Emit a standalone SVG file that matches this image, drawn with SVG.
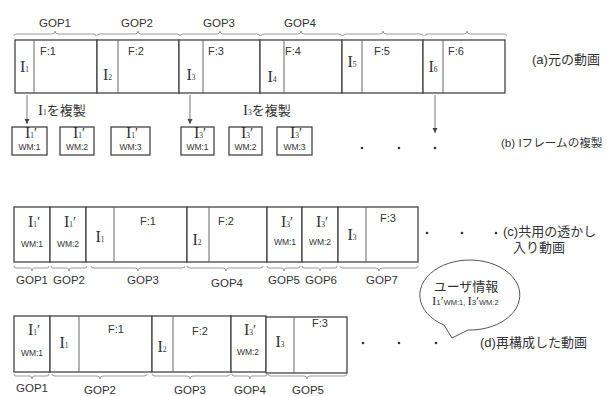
<svg xmlns="http://www.w3.org/2000/svg" width="607" height="396" viewBox="0 0 607 396">
<style>
.bg{fill:#fff}
.box{fill:#fff;stroke:#444;stroke-width:1.3}
.dv{stroke:#666;stroke-width:1}
.br{fill:none;stroke:#999;stroke-width:1}
.gop{font-family:"Liberation Sans",Arial,sans-serif;font-size:11.5px;fill:#333;text-anchor:middle}
.f{font-family:"Liberation Sans",Arial,sans-serif;font-size:11px;fill:#333}
.i{font-family:"Liberation Serif","Times New Roman",serif;font-size:16px;fill:#333;text-anchor:middle}
.s{font-size:7.5px}
.p{font-size:14px}
.wm{font-family:"Liberation Sans",Arial,sans-serif;font-size:8.5px;fill:#333;text-anchor:middle}
.jp{font-family:"Liberation Sans","Noto Sans CJK JP",sans-serif;font-size:13px;fill:#333}
.ij{font-family:"Liberation Serif","Noto Sans CJK JP",serif;font-size:15px}
.arr{stroke:#777;stroke-width:1;fill:none;marker-end:url(#ah)}
.dot{fill:#333}
</style>
<defs>
<marker id="ah" markerWidth="6" markerHeight="6" refX="5" refY="3" orient="auto" markerUnits="userSpaceOnUse">
<path d="M0,0.5 L5,3 L0,5.5 Z" fill="#444"/>
</marker>
</defs>
<rect class="bg" x="0" y="0" width="607" height="396"/>

<g id="a-braces">
<path class="br" d="M14,36 Q14,34 17,34 L52,34 Q55,34 55,31 Q55,34 58,34 L93,34 Q96,34 96,36"/>
<path class="br" d="M97,36 Q97,34 100,34 L135,34 Q138,34 138,31 Q138,34 141,34 L177,34 Q180,34 180,36"/>
<path class="br" d="M180,36 Q180,34 183,34 L217,34 Q220,34 220,31 Q220,34 223,34 L257,34 Q260,34 260,36"/>
<path class="br" d="M261,36 Q261,34 264,34 L298,34 Q301,34 301,31 Q301,34 304,34 L339,34 Q342,34 342,36"/>
<path class="br" d="M343,36 Q343,34 346,34 L380,34 Q383,34 383,31 Q383,34 386,34 L420,34 Q423,34 423,36"/>
<path class="br" d="M425,36 Q425,34 428,34 L464,34 Q467,34 467,31 Q467,34 470,34 L504,34 Q507,34 507,36"/>
<text class="gop" x="55" y="27">GOP1</text>
<text class="gop" x="137" y="27">GOP2</text>
<text class="gop" x="219" y="27">GOP3</text>
<text class="gop" x="300" y="27">GOP4</text>
</g>

<g id="a-gop1"><rect class="box" x="15" y="40" width="82" height="53"/><line class="dv" x1="34" y1="40" x2="34" y2="93"/><text class="i" x="24.5" y="72">I<tspan class="s">1</tspan></text><text class="f" x="40" y="55">F:1</text></g>
<g id="a-gop2"><rect class="box" x="97" y="40" width="82" height="53"/><line class="dv" x1="118" y1="40" x2="118" y2="93"/><text class="i" x="107.5" y="80">I<tspan class="s">2</tspan></text><text class="f" x="128" y="55">F:2</text></g>
<g id="a-gop3"><rect class="box" x="179" y="40" width="81" height="53"/><line class="dv" x1="203" y1="40" x2="203" y2="93"/><text class="i" x="191" y="80">I<tspan class="s">3</tspan></text><text class="f" x="208" y="55">F:3</text></g>
<g id="a-gop4"><rect class="box" x="260" y="40" width="82" height="53"/><line class="dv" x1="284" y1="40" x2="284" y2="93"/><text class="i" x="272" y="82">I<tspan class="s">4</tspan></text><text class="f" x="285" y="55">F:4</text></g>
<g id="a-gop5"><rect class="box" x="342" y="40" width="81" height="53"/><line class="dv" x1="362" y1="40" x2="362" y2="93"/><text class="i" x="352" y="67">I<tspan class="s">5</tspan></text><text class="f" x="374" y="55">F:5</text></g>
<g id="a-gop6"><rect class="box" x="423" y="40" width="82" height="53"/><line class="dv" x1="443" y1="40" x2="443" y2="93"/><text class="i" x="433" y="72">I<tspan class="s">6</tspan></text><text class="f" x="448" y="55">F:6</text></g>
<text class="jp" x="532" y="64">(a)元の動画</text>

<g id="connectors">
<line class="arr" x1="27" y1="95" x2="27" y2="124"/>
<line class="arr" x1="190" y1="95" x2="190" y2="124"/>
<line class="arr" x1="435" y1="95" x2="435" y2="133"/>
</g>
<text class="jp" x="38" y="115"><tspan class="ij">I<tspan class="s">1</tspan></tspan>を複製</text>
<text class="jp" x="243" y="115"><tspan class="ij">I<tspan class="s">3</tspan></tspan>を複製</text>

<g id="b-1"><rect class="box" x="12" y="127" width="35" height="28"/><text class="i" x="31" y="138">I<tspan class="s">1</tspan><tspan class="p">′</tspan></text><text class="wm" x="29.5" y="150">WM:1</text></g>
<g id="b-2"><rect class="box" x="60" y="127" width="34" height="28"/><text class="i" x="79" y="138">I<tspan class="s">1</tspan><tspan class="p">′</tspan></text><text class="wm" x="77" y="150">WM:2</text></g>
<g id="b-3"><rect class="box" x="111" y="127" width="39" height="28"/><text class="i" x="132" y="138">I<tspan class="s">1</tspan><tspan class="p">′</tspan></text><text class="wm" x="130.5" y="150">WM:3</text></g>
<g id="b-4"><rect class="box" x="181" y="127" width="33" height="28"/><text class="i" x="200" y="138">I<tspan class="s">3</tspan><tspan class="p">′</tspan></text><text class="wm" x="197.5" y="150">WM:1</text></g>
<g id="b-5"><rect class="box" x="229" y="127" width="33" height="28"/><text class="i" x="247" y="138">I<tspan class="s">3</tspan><tspan class="p">′</tspan></text><text class="wm" x="245.5" y="150">WM:2</text></g>
<g id="b-6"><rect class="box" x="277" y="127" width="35" height="28"/><text class="i" x="296" y="138">I<tspan class="s">3</tspan><tspan class="p">′</tspan></text><text class="wm" x="294.5" y="150">WM:3</text></g>
<circle class="dot" cx="362" cy="148" r="1.3"/><circle class="dot" cx="399" cy="148" r="1.3"/><circle class="dot" cx="435" cy="148" r="1.3"/>
<text class="jp" x="501" y="147" style="font-size:11.6px">(b) Iフレームの複製</text>

<g id="c-gop1"><rect class="box" x="14" y="207" width="36" height="55"/><text class="i" x="34" y="227">I<tspan class="s">1</tspan><tspan class="p">′</tspan></text><text class="wm" x="32" y="247">WM:1</text></g>
<g id="c-gop2"><rect class="box" x="50" y="207" width="36" height="55"/><text class="i" x="70" y="227">I<tspan class="s">1</tspan><tspan class="p">′</tspan></text><text class="wm" x="68" y="247">WM:2</text></g>
<g id="c-gop3"><rect class="box" x="86" y="207" width="101" height="55"/><line class="dv" x1="114" y1="207" x2="114" y2="262"/><text class="i" x="100" y="242">I<tspan class="s">1</tspan></text><text class="f" x="140" y="225">F:1</text></g>
<g id="c-gop4"><rect class="box" x="187" y="207" width="80" height="55"/><line class="dv" x1="209" y1="207" x2="209" y2="262"/><text class="i" x="197" y="245">I<tspan class="s">2</tspan></text><text class="f" x="218" y="225">F:2</text></g>
<g id="c-gop5"><rect class="box" x="267" y="207" width="35" height="55"/><text class="i" x="287" y="227">I<tspan class="s">3</tspan><tspan class="p">′</tspan></text><text class="wm" x="285" y="245">WM:1</text></g>
<g id="c-gop6"><rect class="box" x="302" y="207" width="36" height="55"/><text class="i" x="322" y="227">I<tspan class="s">3</tspan><tspan class="p">′</tspan></text><text class="wm" x="320" y="245">WM:2</text></g>
<g id="c-gop7"><rect class="box" x="338" y="207" width="80" height="55"/><line class="dv" x1="366" y1="207" x2="366" y2="262"/><text class="i" x="352" y="240">I<tspan class="s">3</tspan></text><text class="f" x="380" y="222">F:3</text></g>
<g id="c-braces">
<path class="br" d="M14,266 Q14,268 16,268 L30,268 Q32,268 32,271 Q32,268 34,268 L47,268 Q49,268 49,266"/>
<path class="br" d="M51,266 Q51,268 53,268 L67,268 Q69,268 69,271 Q69,268 71,268 L85,268 Q87,268 87,266"/>
<path class="br" d="M91,266 Q91,268 94,268 L135,268 Q138,268 138,271 Q138,268 141,268 L182,268 Q185,268 185,266"/>
<path class="br" d="M187,266 Q187,268 190,268 L223,268 Q226,268 226,271 Q226,268 229,268 L260,268 Q263,268 263,266"/>
<path class="br" d="M267,266 Q267,268 269,268 L282,268 Q284,268 284,271 Q284,268 286,268 L298,268 Q300,268 300,266"/>
<path class="br" d="M302,266 Q302,268 304,268 L318,268 Q320,268 320,271 Q320,268 322,268 L335,268 Q337,268 337,266"/>
<path class="br" d="M340,266 Q340,268 343,268 L376,268 Q379,268 379,271 Q379,268 382,268 L415,268 Q418,268 418,266"/>
<text class="gop" x="32" y="284">GOP1</text>
<text class="gop" x="69" y="284">GOP2</text>
<text class="gop" x="143" y="284">GOP3</text>
<text class="gop" x="227" y="287">GOP4</text>
<text class="gop" x="284" y="284">GOP5</text>
<text class="gop" x="321" y="284">GOP6</text>
<text class="gop" x="382" y="284">GOP7</text>
</g>
<circle class="dot" cx="427" cy="233" r="1.3"/><circle class="dot" cx="462" cy="233" r="1.3"/><circle class="dot" cx="496" cy="233" r="1.3"/>
<text class="jp" x="503" y="236">(c)共用の透かし</text>
<text class="jp" x="513" y="252">入り動画</text>

<g id="bubble">
<path d="M444,325 L452,338 L468,330 A50 35 0 1 0 444 325 Z" fill="#fff" stroke="#555" stroke-width="1"/>
<text class="jp" x="466" y="291" style="text-anchor:middle">ユーザ情報</text>
<text x="432" y="305" style="font-family:'Liberation Serif',serif;font-size:13px;fill:#333">I<tspan style="font-size:8px;font-family:'Liberation Sans',sans-serif">1</tspan>′<tspan style="font-size:7.5px;font-family:'Liberation Sans',sans-serif">WM:1, </tspan>I<tspan style="font-size:8px;font-family:'Liberation Sans',sans-serif">3</tspan>′<tspan style="font-size:7.5px;font-family:'Liberation Sans',sans-serif">WM:2</tspan></text>
</g>

<g id="d-gop1"><rect class="box" x="14" y="316" width="36" height="56"/><text class="i" x="34" y="335">I<tspan class="s">1</tspan><tspan class="p">′</tspan></text><text class="wm" x="32" y="356">WM:1</text></g>
<g id="d-gop2"><rect class="box" x="50" y="316" width="102" height="56"/><line class="dv" x1="79" y1="316" x2="79" y2="372"/><text class="i" x="64" y="348">I<tspan class="s">1</tspan></text><text class="f" x="108" y="333">F:1</text></g>
<g id="d-gop3"><rect class="box" x="152" y="316" width="79" height="56"/><line class="dv" x1="173" y1="316" x2="173" y2="372"/><text class="i" x="162" y="352">I<tspan class="s">2</tspan></text><text class="f" x="192" y="335">F:2</text></g>
<g id="d-gop4"><rect class="box" x="231" y="316" width="35" height="56"/><text class="i" x="250" y="335">I<tspan class="s">3</tspan><tspan class="p">′</tspan></text><text class="wm" x="248" y="355">WM:2</text></g>
<g id="d-gop5"><rect class="box" x="266" y="317" width="81" height="56"/><line class="dv" x1="294" y1="317" x2="294" y2="373"/><text class="i" x="280" y="347">I<tspan class="s">3</tspan></text><text class="f" x="312" y="327">F:3</text></g>
<g id="d-braces">
<path class="br" d="M14,374 Q14,376 16,376 L30,376 Q32,376 32,379 Q32,376 34,376 L47,376 Q49,376 49,374"/>
<path class="br" d="M52,374 Q52,376 55,376 L97,376 Q100,376 100,379 Q100,376 103,376 L144,376 Q147,376 147,374"/>
<path class="br" d="M152,374 Q152,376 155,376 L187,376 Q190,376 190,379 Q190,376 193,376 L227,376 Q230,376 230,374"/>
<path class="br" d="M232,374 Q232,376 234,376 L248,376 Q250,376 250,379 Q250,376 252,376 L265,376 Q267,376 267,374"/>
<path class="br" d="M268,374 Q268,376 271,376 L304,376 Q307,376 307,379 Q307,376 310,376 L344,376 Q347,376 347,374"/>
<text class="gop" x="32" y="392">GOP1</text>
<text class="gop" x="100" y="394">GOP2</text>
<text class="gop" x="190" y="394">GOP3</text>
<text class="gop" x="250" y="394">GOP4</text>
<text class="gop" x="308" y="394">GOP5</text>
</g>
<circle class="dot" cx="363" cy="343" r="1.3"/><circle class="dot" cx="399" cy="343" r="1.3"/><circle class="dot" cx="436" cy="343" r="1.3"/>
<text class="jp" x="480" y="347">(d)再構成した動画</text>
</svg>
